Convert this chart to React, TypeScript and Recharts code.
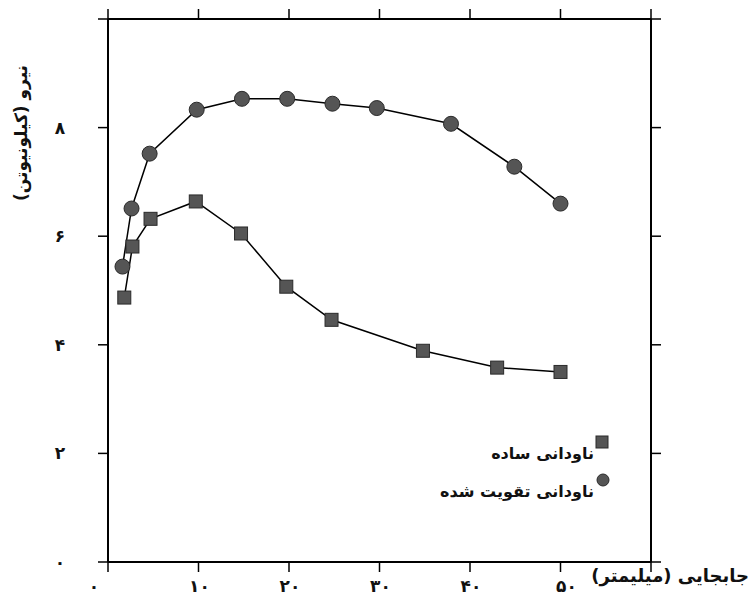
// @ts-nocheck
import React from 'react'
import { LineChart, Line, XAxis, YAxis, Legend } from 'recharts'

// ناودانی ساده (simple channel) — square markers
const simpleX = [1.8, 2.7, 4.7, 9.7, 14.7, 19.7, 24.7, 34.8, 43, 50]
const simpleY = [4.87, 5.81, 6.32, 6.64, 6.05, 5.07, 4.46, 3.89, 3.58, 3.5]

// ناودانی تقویت شده (reinforced channel) — circle markers
const reinfX = [1.6, 2.6, 4.6, 9.8, 14.8, 19.8, 24.8, 29.7, 37.9, 44.9, 50]
const reinfY = [5.44, 6.51, 7.52, 8.33, 8.53, 8.53, 8.44, 8.36, 8.07, 7.28, 6.6]

const xTicks = [0, 10, 20, 30, 40, 50, 60]
const xTickLabels = ['۰', '۱۰', '۲۰', '۳۰', '۴۰', '۵۰', '']
const yTicks = [0, 2, 4, 6, 8, 10]
const yTickLabels = ['۰', '۲', '۴', '۶', '۸', '']

const xTitle = 'جابجایی (میلیمتر)'
const yTitle = 'نیرو (کیلونیوتن)'
const simpleName = 'ناودانی ساده'
const reinfName = 'ناودانی تقویت شده'

const simpleData = simpleX.map((x, i) => ({ x, y: simpleY[i] }))
const reinfData = reinfX.map((x, i) => ({ x, y: reinfY[i] }))

const FONT = '"DejaVu Sans", sans-serif'
const MARK_FILL = '#555'
const MARK_STROKE = '#2a2a2a'

const SquareDot = (props) => {
  const { cx, cy, index } = props
  if (cx == null || cy == null) return null
  return <rect key={'s' + index} x={cx - 6.5} y={cy - 6.5} width={13} height={13} fill={MARK_FILL} stroke={MARK_STROKE} strokeWidth={1} />
}

const CircleDot = (props) => {
  const { cx, cy, index } = props
  if (cx == null || cy == null) return null
  return <circle key={'c' + index} cx={cx} cy={cy} r={7.5} fill={MARK_FILL} stroke={MARK_STROKE} strokeWidth={1} />
}

const BottomTick = (props) => {
  const { x, y, payload } = props
  const i = xTicks.indexOf(payload.value)
  const label = xTickLabels[i] ?? ''
  const dx = payload.value === 0 ? -14 : payload.value === 50 ? 6 : 1
  return (
    <text x={x + dx} y={y + 18} textAnchor="middle" fontFamily={FONT} fontWeight="bold" fontSize={17} fill="#111">
      {label}
    </text>
  )
}

const LeftTick = (props) => {
  const { x, y, payload } = props
  const i = yTicks.indexOf(payload.value)
  const label = yTickLabels[i] ?? ''
  return (
    <text x={x - 36} y={y + 6} textAnchor="middle" fontFamily={FONT} fontWeight="bold" fontSize={17} fill="#111">
      {label}
    </text>
  )
}

const LegendBox = () => (
  <svg width={200} height={85} style={{ overflow: 'visible' }}>
    <rect x={176} y={11} width={12} height={12} fill={MARK_FILL} stroke={MARK_STROKE} />
    <text x={174} y={34} textAnchor="start" direction="rtl" fontFamily={FONT} fontWeight="bold" fontSize={16} fill="#111">{simpleName}</text>
    <circle cx={183} cy={55} r={6} fill={MARK_FILL} stroke={MARK_STROKE} />
    <text x={174} y={72} textAnchor="start" direction="rtl" fontFamily={FONT} fontWeight="bold" fontSize={16} fill="#111">{reinfName}</text>
  </svg>
)

export default function App() {
  const axisStroke = { stroke: '#000', strokeWidth: 2 }
  return (
    <div style={{ position: 'absolute', left: 0, top: 0, width: 752, height: 611, background: '#fff' }}>
      <LineChart width={752} height={611} margin={{ top: 0, right: 71, bottom: 9, left: 38 }}>
        <XAxis xAxisId="b" type="number" dataKey="x" orientation="bottom" domain={[0, 60]} ticks={xTicks}
          height={40} tickSize={10} axisLine={axisStroke} tickLine={{ stroke: '#000', strokeWidth: 1.5 }} tick={<BottomTick />} interval={0} />
        <XAxis xAxisId="t" type="number" dataKey="x" orientation="top" domain={[0, 60]} ticks={xTicks}
          height={19} tickSize={10} axisLine={axisStroke} tickLine={{ stroke: '#000', strokeWidth: 1.5 }} tickFormatter={() => ''} interval={0} />
        <YAxis yAxisId="l" type="number" orientation="left" domain={[0, 10]} ticks={yTicks}
          width={70} tickSize={10} axisLine={axisStroke} tickLine={{ stroke: '#000', strokeWidth: 1.5 }} tick={<LeftTick />} interval={0} />
        <YAxis yAxisId="r" type="number" orientation="right" domain={[0, 10]} ticks={yTicks}
          width={30} tickSize={10} axisLine={axisStroke} tickLine={{ stroke: '#000', strokeWidth: 1.5 }} tickFormatter={() => ''} interval={0} />
        <Legend layout="vertical" align="center" verticalAlign="middle" content={<LegendBox />}
          wrapperStyle={{ left: 420, top: 425, width: 200, height: 85 }} />
        <Line xAxisId="b" yAxisId="l" data={simpleData} dataKey="y" name={simpleName} type="linear"
          stroke="#000" strokeWidth={1.5} dot={SquareDot} activeDot={false} isAnimationActive={false} />
        <Line xAxisId="b" yAxisId="l" data={reinfData} dataKey="y" name={reinfName} type="linear"
          stroke="#000" strokeWidth={1.5} dot={CircleDot} activeDot={false} isAnimationActive={false} />
        <Line xAxisId="t" yAxisId="r" data={reinfData} dataKey="y" stroke="none" dot={false} legendType="none" isAnimationActive={false} />
      </LineChart>
      <svg width={752} height={611} style={{ position: 'absolute', left: 0, top: 0, pointerEvents: 'none' }}>
        <text x={749} y={582} textAnchor="start" direction="rtl" fontFamily={FONT} fontWeight="bold" fontSize={18} fill="#111">{xTitle}</text>
        <text transform="translate(27,133) rotate(-90)" textAnchor="middle" direction="rtl" fontFamily={FONT} fontWeight="bold" fontSize={17} fill="#111">{yTitle}</text>
      </svg>
    </div>
  )
}
